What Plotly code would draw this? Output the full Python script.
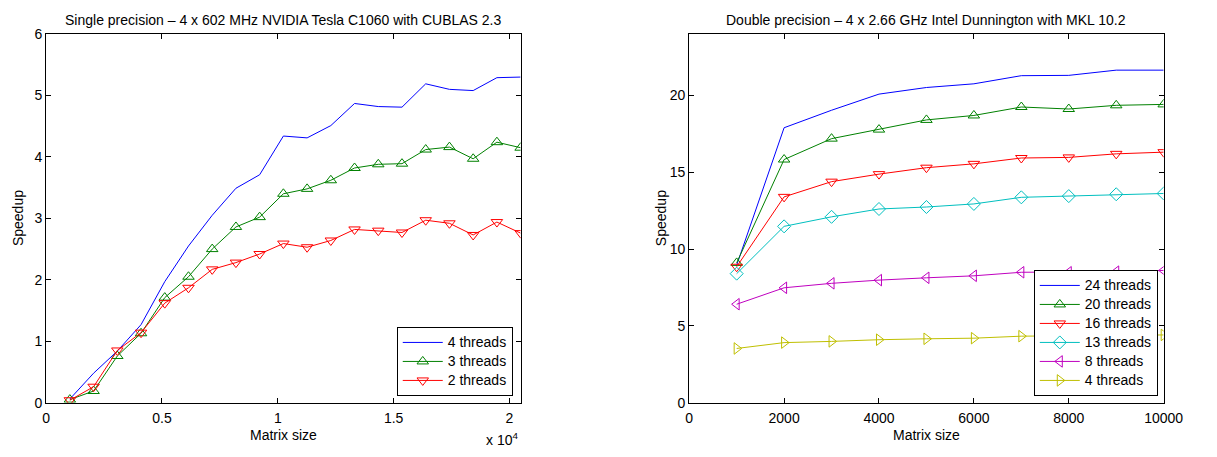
import plotly.graph_objects as go

# ---------------- data ----------------
# Left: single precision GPU (matrix sizes are multiples of 1024)
sp_sizes = [1024, 2048, 3072, 4096, 5120, 6144, 7168, 8192, 9216, 10240,
            11264, 12288, 13312, 14336, 15360, 16384, 17408, 18432, 19456, 20480]
sp_4threads = [0.06, 0.48, 0.84, 1.27, 1.97, 2.55, 3.05, 3.49, 3.71, 4.34,
               4.31, 4.51, 4.87, 4.82, 4.81, 5.19, 5.10, 5.08, 5.29, 5.30]
sp_3threads = [0.05, 0.19, 0.76, 1.13, 1.71, 2.05, 2.50, 2.86, 3.02, 3.40,
               3.48, 3.62, 3.82, 3.88, 3.89, 4.12, 4.16, 3.97, 4.24, 4.15]
sp_2threads = [0.04, 0.26, 0.85, 1.14, 1.62, 1.87, 2.17, 2.28, 2.42, 2.59,
               2.53, 2.64, 2.82, 2.80, 2.77, 2.97, 2.92, 2.73, 2.94, 2.76]

# Right: double precision CPU
dp_sizes = [1000, 2000, 3000, 4000, 5000, 6000, 7000, 8000, 9000, 10000]
dp_24threads = [8.95, 17.9, 19.04, 20.09, 20.52, 20.76, 21.29, 21.31, 21.65, 21.65]
dp_20threads = [9.1, 15.83, 17.19, 17.78, 18.41, 18.70, 19.25, 19.12, 19.36, 19.42]
dp_16threads = [8.85, 13.40, 14.39, 14.88, 15.30, 15.55, 15.93, 15.97, 16.20, 16.31]
dp_13threads = [8.40, 11.48, 12.10, 12.61, 12.74, 12.94, 13.37, 13.45, 13.57, 13.62]
dp_8threads = [6.41, 7.48, 7.77, 7.98, 8.13, 8.26, 8.49, 8.49, 8.53, 8.61]
dp_4threads = [3.53, 3.91, 3.99, 4.10, 4.16, 4.20, 4.33, 4.36, 4.40, 4.41]

left_xticks = [0, 5000, 10000, 15000, 20000]
left_xticktext = ["0", "0.5", "1", "1.5", "2"]
left_yticks = [0, 1, 2, 3, 4, 5, 6]
right_xticks = [0, 2000, 4000, 6000, 8000, 10000]
right_xticktext = ["0", "2000", "4000", "6000", "8000", "10000"]
right_yticks = [0, 5, 10, 15, 20]

left_title = "Single precision \u2013 4 x 602 MHz NVIDIA Tesla C1060 with CUBLAS 2.3"
right_title = "Double precision \u2013 4 x 2.66 GHz Intel Dunnington with MKL 10.2"

# ---------------- styling ----------------
W, H = 1217, 457
FONT = "Arial"
FS = 14
BLUE, GREEN, RED = "#0000ff", "#008000", "#ff0000"
CYAN, MAGENTA, YELLOW = "#00bfbf", "#bf00bf", "#bfbf00"
MS = 10

def px_x(p):
    return p / W

def px_y(p):
    return 1 - p / H

fig = go.Figure()

def add(x, y, name, color, symbol, xa, ya, legend):
    mode = "lines" if symbol is None else "lines+markers"
    label = '<span style="font-size:%dpx">%s</span>' % (FS, name)
    kw = dict(x=x, y=y, name=label, mode=mode, xaxis=xa, yaxis=ya, legend=legend,
              line=dict(color=color, width=1))
    if symbol is not None:
        kw["marker"] = dict(symbol=symbol, size=MS, color=color,
                            line=dict(color=color, width=1))
    fig.add_trace(go.Scatter(**kw))

add(sp_sizes, sp_4threads, "4 threads", BLUE, None, "x", "y", "legend")
add(sp_sizes, sp_3threads, "3 threads", GREEN, "triangle-up-open", "x", "y", "legend")
add(sp_sizes, sp_2threads, "2 threads", RED, "triangle-down-open", "x", "y", "legend")

add(dp_sizes, dp_24threads, "24 threads", BLUE, None, "x2", "y2", "legend2")
add(dp_sizes, dp_20threads, "20 threads", GREEN, "triangle-up-open", "x2", "y2", "legend2")
add(dp_sizes, dp_16threads, "16 threads", RED, "triangle-down-open", "x2", "y2", "legend2")
add(dp_sizes, dp_13threads, "13 threads", CYAN, "diamond-open", "x2", "y2", "legend2")
add(dp_sizes, dp_8threads, "8 threads", MAGENTA, "triangle-left-open", "x2", "y2", "legend2")
add(dp_sizes, dp_4threads, "4 threads", YELLOW, "triangle-right-open", "x2", "y2", "legend2")

L0, L1 = 43, 527
R0, R1 = 699, 1183
T, B = 27, 409
ydom = [px_y(B), px_y(T)]

axis_common = dict(showline=True, mirror="ticks", linecolor="black", linewidth=1,
                   ticks="inside", ticklen=5, tickcolor="black", showgrid=False,
                   zeroline=False, tickfont=dict(family=FONT, size=FS, color="black"))

legend_common = dict(xanchor="right", yanchor="bottom", bgcolor="white",
                     bordercolor="black", borderwidth=1,
                     font=dict(family=FONT, size=12, color="black"),
                     tracegroupgap=0, itemwidth=40)

fig.update_layout(
    width=W, height=H, autosize=False,
    margin=dict(l=0, r=0, t=0, b=0),
    paper_bgcolor="white", plot_bgcolor="white",
    font=dict(family=FONT, size=FS, color="black"),
    xaxis=dict(domain=[px_x(L0), px_x(L1)], range=[0, 20480], tickvals=left_xticks,
               ticktext=left_xticktext, anchor="y", ticklabelstandoff=3, **axis_common),
    yaxis=dict(domain=ydom, range=[0, 6], tickvals=left_yticks, anchor="x",
               ticklabelstandoff=0, **axis_common),
    xaxis2=dict(domain=[px_x(R0), px_x(R1)], range=[0, 10000], tickvals=right_xticks,
                ticktext=right_xticktext, anchor="y2", ticklabelstandoff=3, **axis_common),
    yaxis2=dict(domain=ydom, range=[0, 24], tickvals=right_yticks, anchor="x2",
                ticklabelstandoff=0, **axis_common),
    legend=dict(x=px_x(519), y=px_y(402), **legend_common),
    legend2=dict(x=px_x(1177), y=px_y(402), **legend_common),
    showlegend=True,
)

annos = [
    dict(text=left_title, x=px_x((L0 + L1) / 2), y=px_y(12)),
    dict(text=right_title, x=px_x((R0 + R1) / 2), y=px_y(12)),
    dict(text="Matrix size", x=px_x((L0 + L1) / 2), y=px_y(443)),
    dict(text="Matrix size", x=px_x((R0 + R1) / 2), y=px_y(443)),
    dict(text="Speedup", x=px_x(15), y=px_y((T + B) / 2), textangle=-90),
    dict(text="Speedup", x=px_x(671), y=px_y((T + B) / 2), textangle=-90),
    dict(text="x 10<sup>4</sup>", x=px_x(508), y=px_y(447)),
]
for a in annos:
    fig.add_annotation(xref="paper", yref="paper", showarrow=False,
                       xanchor="center", yanchor="middle",
                       font=dict(family=FONT, size=FS, color="black"), **a)

fig.write_html("out.html")
